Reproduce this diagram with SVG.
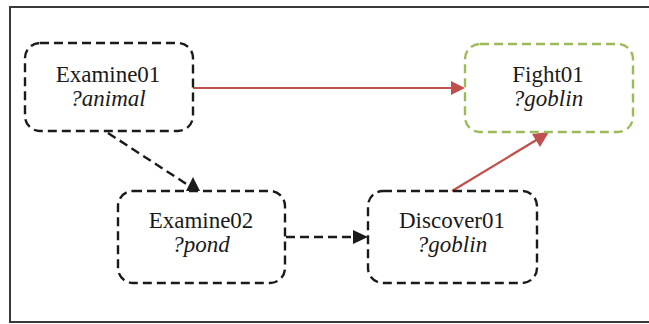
<svg xmlns="http://www.w3.org/2000/svg" width="649" height="324" viewBox="0 0 649 324">
  <style>
    .frame { fill: #ffffff; stroke: #3a3a3a; stroke-width: 2; }
    .node { fill: none; stroke: #1a1a1a; stroke-width: 2.4; stroke-dasharray: 9 5; }
    .node.goal { stroke: #9bbb59; }
    .label { font-family: "Liberation Serif", "Times New Roman", serif; font-size: 23px; fill: #1a1a1a; text-anchor: middle; }
    .arg { font-style: italic; }
    .causal { stroke: #c0504d; stroke-width: 2.2; fill: none; }
    .order { stroke: #1a1a1a; stroke-width: 2.4; fill: none; stroke-dasharray: 9 5; }
    .head-red { fill: #c0504d; }
    .head-black { fill: #1a1a1a; }
  </style>

  <!-- outer frame -->
  <rect class="frame" x="10" y="7" width="660" height="315"/>

  <!-- connectors -->
  <g id="connectors">
    <line class="causal" x1="193" y1="88" x2="452" y2="88"/>
    <polygon class="head-red" points="465,88 451,81 451,95"/>

    <line class="causal" x1="452" y1="191" x2="538" y2="139"/>
    <polygon class="head-red" points="549,132 532,134 540,147"/>

    <line class="order" x1="108" y1="133" x2="188" y2="185"/>
    <polygon class="head-black" points="193,177 186,191 200,191"/>

    <line class="order" x1="286" y1="237" x2="354" y2="237"/>
    <polygon class="head-black" points="368,237 353,230 353,244"/>
  </g>

  <g id="examine01">
    <rect class="node" x="25" y="43" width="168" height="88" rx="15"/>
    <text class="label" x="108" y="82">Examine01</text>
    <text class="label arg" x="108" y="106">?animal</text>
  </g>

  <g id="fight01">
    <rect class="node goal" x="465" y="44" width="168" height="88" rx="15"/>
    <text class="label" x="548" y="82">Fight01</text>
    <text class="label arg" x="548" y="106">?goblin</text>
  </g>

  <g id="examine02">
    <rect class="node" x="118" y="191" width="167" height="92" rx="15"/>
    <text class="label" x="201" y="228">Examine02</text>
    <text class="label arg" x="201" y="252">?pond</text>
  </g>

  <g id="discover01">
    <rect class="node" x="368" y="191" width="169" height="92" rx="15"/>
    <text class="label" x="452" y="228">Discover01</text>
    <text class="label arg" x="452" y="252">?goblin</text>
  </g>
</svg>
